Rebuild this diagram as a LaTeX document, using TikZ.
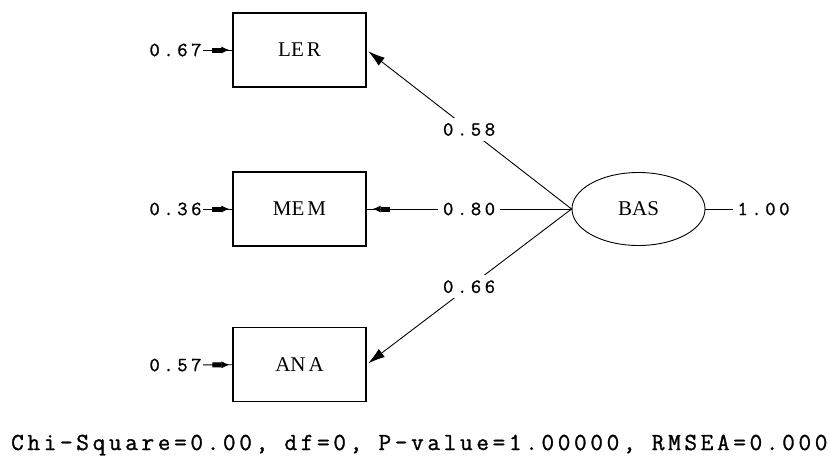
\documentclass[tikz,border=0pt]{standalone}
\usepackage{fontspec}
\newfontfamily\boxfont{Liberation Serif}
\newfontfamily\valfont{Latin Modern Mono}[LetterSpace=18,FakeBold=1.2]
\newfontfamily\fitfont{Latin Modern Mono}[LetterSpace=15,FakeBold=1.2]
\usetikzlibrary{arrows.meta,decorations.markings,shapes.geometric}
\begin{document}
\begin{tikzpicture}[x=1pt,y=-1pt,
  obs/.style={draw,line width=1.2pt,minimum width=133pt,minimum height=74pt,inner sep=0pt,font=\boxfont\fontsize{21}{21}\selectfont},
  lat/.style={draw,ellipse,line width=0.9pt,minimum width=133pt,minimum height=73pt,inner sep=0pt,font=\boxfont\fontsize{21}{21}\selectfont},
  val/.style={inner sep=1.5pt,font=\valfont\fontsize{20}{20}\selectfont},
  lbl/.style={val,fill=white,inner sep=5pt},
  link/.style={line width=0.9pt},
  load/.style={link,-{Latex[length=17pt,width=10pt]},shorten >=2pt},
  headat/.style={link,postaction={decorate},decoration={markings,mark=at position #1 with {\arrow{Rectangle[length=9pt,width=5pt]Latex[length=8pt,width=7pt]}}}},
]
\useasboundingbox (0,0) rectangle (829,455);
\fill[white] (0,0) rectangle (829,455);
\node[obs] (LER) at (299.5,50) {LE\kern3pt R};
\node[obs] (MEM) at (299.5,209) {ME\kern3pt M};
\node[obs] (ANA) at (299.5,364.5) {AN\kern3pt A};
\node[lat] (BAS) at (638.5,209) {BAS};
\node[val] (e1) at (175.5,50) {0.67};
\node[val] (e2) at (175.5,209) {0.36};
\node[val] (e3) at (175.5,365) {0.57};
\node[val,inner sep=4pt] (v) at (763.5,209) {1.00};
\draw[headat=-3pt] (e1) -- (LER);
\draw[headat=-3pt] (e2) -- (MEM);
\draw[headat=-3pt] (e3) -- (ANA);
\draw[load] (BAS.west) -- node[lbl]{0.58} (LER.east);
\draw[headat=-6pt] (BAS.west) -- node[lbl]{0.80} (MEM.east);
\draw[load] (BAS.west) -- node[lbl]{0.66} (ANA.east);
\draw[link] (BAS) -- (v);
\node[font=\fitfont\fontsize{24.5}{24.5}\selectfont,inner sep=0pt,anchor=base west] (fit) at (11,450) {Chi-Square=0.00, df=0, P-value=1.00000, RMSEA=0.000};
\end{tikzpicture}
\end{document}
